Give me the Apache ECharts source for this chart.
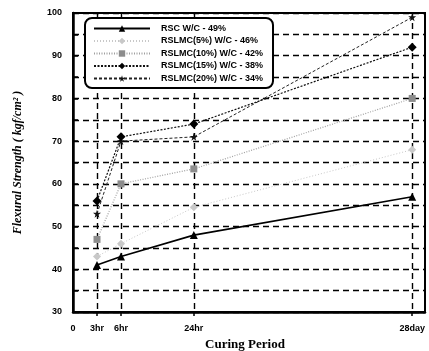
<!DOCTYPE html>
<html><head><meta charset="utf-8">
<script src="https://cdn.jsdelivr.net/npm/echarts@6/dist/echarts.min.js"></script>
<style>html,body{margin:0;padding:0;background:#fff}#c{width:429px;height:351px}</style>
</head><body><div id="c"></div>
<script>
// Curing periods and their place on the (non-linear) curing axis
const periods = ['3hr', '6hr', '24hr', '28day'];
const periodAxisPos = [3, 6, 15.1, 42.4];
const xTickLabels = ['0', '3hr', '6hr', '24hr', '28day'];
const xTickPos = [0, 3, 6, 15.1, 42.4];

const seriesNames = ['RSC W/C - 49%', 'RSLMC(5%) W/C - 46%', 'RSLMC(10%) W/C - 42%', 'RSLMC(15%) W/C - 38%', 'RSLMC(20%) W/C - 34%'];
const rsc = [41, 43, 48, 57];
const rslmc5 = [43, 46, 54.5, 68];
const rslmc10 = [47, 60, 63.5, 80];
const rslmc15 = [56, 71, 74, 92];
const rslmc20 = [53, 70, 71, 99];

const star = 'path://M50,0 L61,35 L98,35 L68,57 L79,91 L50,70 L21,91 L32,57 L2,35 L39,35 Z';

function pts(vals){ return vals.map((v,i)=>[periodAxisPos[i], v]); }

const styles = [
  {symbol:'triangle', size:8, color:'#000', line:{color:'#000', width:1.6, type:'solid'}},
  {symbol:'diamond', size:8, color:'#c8c8c8', line:{color:'#c8c8c8', width:1, type:[1,2]}},
  {symbol:'rect', size:7, color:'#8c8c8c', line:{color:'#a0a0a0', width:1.2, type:[1,1.5]}},
  {symbol:'diamond', size:9, color:'#000', line:{color:'#111', width:1.2, type:[2,1.5]}},
  {symbol:star, size:8, color:'#111', line:{color:'#222', width:1, type:[3,2]}}
];
const allData = [rsc, rslmc5, rslmc10, rslmc15, rslmc20];

const chart = echarts.init(document.getElementById('c'), null, {renderer:'canvas'});
chart.setOption({
  animation:false,
  backgroundColor:'#fff',
  grid:{left:73, right:4, top:13, bottom:39, outerBoundsMode:'none', containLabel:false, show:true, borderColor:'#000', borderWidth:2, backgroundColor:'transparent'},
  legend:{
    orient:'vertical', left:85, top:18,
    data:seriesNames,
    backgroundColor:'#fff', borderColor:'#000', borderWidth:2, borderRadius:7,
    padding:[6,10,5,8], itemWidth:56, itemHeight:8, itemGap:3.5,
    textStyle:{fontFamily:'Liberation Sans', fontWeight:'bold', fontSize:9, color:'#000', padding:[0,0,0,6]}
  },
  xAxis:{
    type:'value', min:0, max:44,
    name:'Curing Period', nameLocation:'middle', nameGap:25,
    nameTextStyle:{fontFamily:'Liberation Serif', fontWeight:'bold', fontSize:13, color:'#000', padding:[0,8,0,0]},
    axisLine:{lineStyle:{color:'#000', width:2.5}},
    axisTick:{customValues:xTickPos.slice(1), length:4, lineStyle:{color:'#000', width:1.5}},
    axisLabel:{customValues:xTickPos, formatter:(v)=>{const i=xTickPos.indexOf(v); return i>=0?xTickLabels[i]:'';},
      fontFamily:'Liberation Sans', fontWeight:'bold', fontSize:9, color:'#000', margin:12},
    splitLine:{show:true, lineStyle:{color:'#000', width:1.4, type:[6,4]}}
  },
  yAxis:{
    type:'value', min:30, max:100, interval:5,
    name:'Flexural Strength ( kgf/cm² )', nameLocation:'middle', nameGap:49,
    nameTextStyle:{fontFamily:'Liberation Serif', fontWeight:'bold', fontStyle:'italic', fontSize:12, color:'#000'},
    axisLine:{lineStyle:{color:'#000', width:2.5}},
    axisTick:{inside:true, length:5, lineStyle:{color:'#000', width:1.5}},
    axisLabel:{formatter:(v)=> v%10===0?String(v):'', fontFamily:'Liberation Sans', fontWeight:'bold', fontSize:9, color:'#000', margin:11},
    splitLine:{show:true, lineStyle:{color:'#000', width:1.4, type:[6,4]}}
  },
  series: allData.map((d,i)=>({
    name:seriesNames[i], type:'line', data:pts(d),
    symbol:styles[i].symbol, symbolSize:styles[i].size,
    itemStyle:{color:styles[i].color},
    lineStyle:styles[i].line,
    z:10-i
  }))
});
</script></body></html>
